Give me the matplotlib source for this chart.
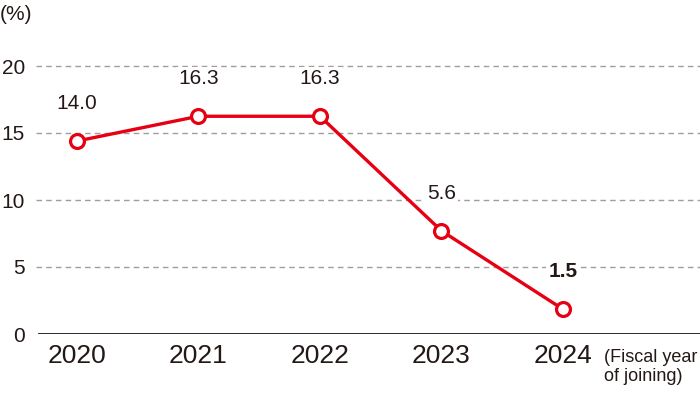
import matplotlib

matplotlib.use("Agg")
import matplotlib.pyplot as plt  # noqa: E402

# values as placed in the picture, and the labels printed above them
years = ["2020", "2021", "2022", "2023", "2024"]
plotted = [14.4, 16.25, 16.25, 7.7, 1.85]
labels = ["14.0", "16.3", "16.3", "5.6", "1.5"]
bold_label = [False, False, False, False, True]
yticks = [0, 5, 10, 15, 20]

RED = "#e60012"
TEXT = "#231815"
plt.rcParams["font.family"] = ["Liberation Sans", "DejaVu Sans"]

fig = plt.figure(figsize=(7, 3.97), dpi=100)
ax = fig.add_axes([36 / 700, 63 / 397, 664 / 700, 294.8 / 397])
ax.set_xlim(-0.337, 5.128)
ax.set_ylim(0, 22)

for y in yticks[1:]:
    ax.axhline(y, color="#9e9e9e", lw=1.0, ls=(0, (4, 3)), zorder=1)
ax.axhline(0, xmin=0.005, color=TEXT, lw=1.3, zorder=2)

x = list(range(len(years)))
ax.plot(x, plotted, color=RED, lw=2.4, marker="o", ms=10,
        mfc="white", mec=RED, mew=2.3, zorder=4)

for xi, yi, lab, b in zip(x, plotted, labels, bold_label):
    ax.annotate(lab, (xi, yi), xytext=(0, 27), textcoords="offset points",
                ha="center", va="center", fontsize=15, color=TEXT,
                fontweight="bold" if b else "normal",
                bbox=dict(boxstyle="square,pad=0.1", fc="white", ec="none"),
                zorder=3)

ax.set_xticks(x)
ax.set_xticklabels(years, fontsize=19, color=TEXT)
ax.set_yticks(yticks)
ax.set_yticklabels([str(v) for v in yticks], fontsize=15, color=TEXT)
ax.tick_params(length=0)
ax.tick_params(axis="x", pad=7)
ax.tick_params(axis="y", pad=8)
for s in ax.spines.values():
    s.set_visible(False)

fig.text(0.0, 1 - 14 / 397, "(%)", fontsize=15, color=TEXT, va="center", ha="left")
fig.text(604 / 700, 1 - 367 / 397, "(Fiscal year\nof joining)", fontsize=13,
         color=TEXT, va="center", ha="left", linespacing=1.1)

fig.savefig("out.png", dpi=100)
